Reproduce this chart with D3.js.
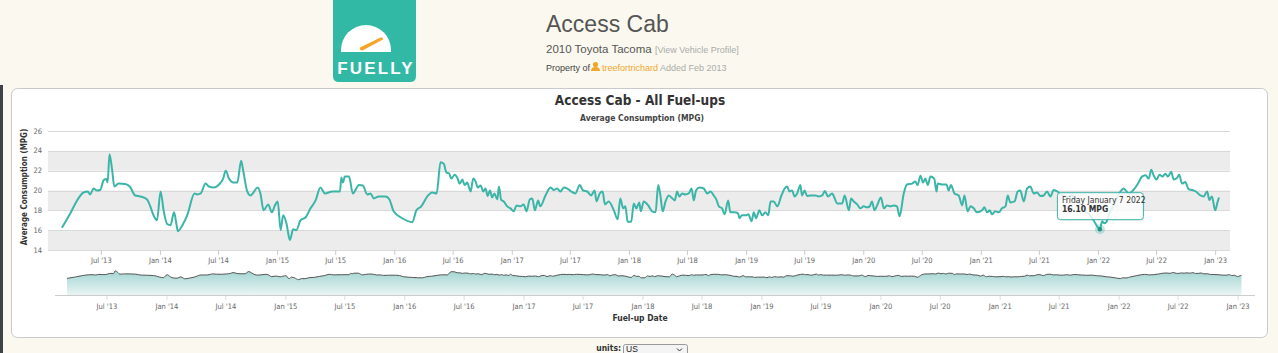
<!DOCTYPE html>
<html>
<head>
<meta charset="utf-8">
<script src="https://cdn.jsdelivr.net/npm/d3@7"></script>
<style>
  body { margin: 0; background: #fbf9ef; overflow: hidden; }
  text { font-family: "Liberation Sans", Arial, sans-serif; }
  .narrow { font-family: "Liberation Sans Narrow", "DejaVu Sans Condensed", sans-serif; }
</style>
</head>
<body>
<div id="container"></div>
<script>
// fuel-up dates and average MPG
const fuelUpDates = [
  "2013-03-02","2013-03-28","2013-04-18","2013-05-08","2013-05-21","2013-05-29","2013-06-08","2013-06-19","2013-06-29","2013-07-10","2013-07-18","2013-07-22","2013-07-28","2013-08-05","2013-08-12","2013-08-25","2013-09-15","2013-09-29","2013-10-16","2013-11-01","2013-11-22","2013-12-02","2013-12-12","2013-12-23",
  "2014-01-03","2014-01-13","2014-01-24","2014-02-03","2014-02-14","2014-02-22","2014-02-26","2014-03-12","2014-03-27","2014-04-19","2014-04-27","2014-05-08","2014-05-23","2014-06-03","2014-06-18","2014-07-04","2014-07-17","2014-07-25","2014-08-04","2014-08-18","2014-08-30","2014-09-11","2014-09-18","2014-09-30","2014-10-10","2014-11-02","2014-11-10","2014-11-20","2014-12-04","2014-12-16","2014-12-24",
  "2015-01-03","2015-01-12","2015-01-20","2015-01-30","2015-02-10","2015-02-20","2015-03-02","2015-03-15","2015-03-31","2015-04-15","2015-05-01","2015-05-16","2015-05-30","2015-06-22","2015-07-16","2015-07-20","2015-07-25","2015-07-31","2015-08-13","2015-08-25","2015-09-13","2015-09-25","2015-10-09","2015-10-19","2015-10-29","2015-11-14","2015-12-05","2015-12-17","2015-12-30",
  "2016-01-26","2016-02-26","2016-03-10","2016-03-25","2016-04-13","2016-04-28","2016-05-12","2016-05-24","2016-06-03","2016-06-12","2016-06-19","2016-06-27","2016-07-07","2016-07-15","2016-07-23","2016-07-31","2016-08-07","2016-08-15","2016-08-26","2016-09-03","2016-09-10","2016-09-17","2016-09-26","2016-10-04","2016-10-11","2016-10-18","2016-10-25","2016-11-01","2016-11-08","2016-11-17","2016-11-22","2016-11-29","2016-12-07","2016-12-18","2016-12-28",
  "2017-01-07","2017-01-16","2017-01-28","2017-02-07","2017-02-16","2017-02-26","2017-03-06","2017-03-14","2017-03-24","2017-03-31","2017-04-16","2017-05-02","2017-05-12","2017-05-22","2017-06-02","2017-06-12","2017-06-23","2017-07-05","2017-07-18","2017-08-01","2017-08-11","2017-08-24","2017-09-05","2017-09-16","2017-09-22","2017-10-02","2017-10-11","2017-10-18","2017-10-30","2017-11-15","2017-11-27","2017-12-05","2017-12-14","2017-12-21","2017-12-28",
  "2018-01-08","2018-01-16","2018-01-24","2018-02-02","2018-02-07","2018-02-16","2018-03-02","2018-03-14","2018-03-25","2018-04-02","2018-04-09","2018-04-16","2018-04-25","2018-05-05","2018-05-13","2018-05-24","2018-05-31","2018-06-07","2018-06-16","2018-06-26","2018-07-06","2018-07-15","2018-07-22","2018-07-29","2018-08-09","2018-08-22","2018-09-02","2018-09-12","2018-09-22","2018-09-30","2018-10-08","2018-10-18","2018-10-26","2018-11-06","2018-11-13","2018-11-26","2018-12-07","2018-12-11","2018-12-19","2018-12-31",
  "2019-01-08","2019-01-18","2019-01-25","2019-02-01","2019-02-11","2019-02-20","2019-03-02","2019-03-11","2019-03-18","2019-03-28","2019-04-08","2019-04-21","2019-05-01","2019-05-09","2019-05-16","2019-05-24","2019-06-01","2019-06-09","2019-06-19","2019-06-24","2019-07-02","2019-07-10","2019-07-20","2019-08-05","2019-08-15","2019-08-26","2019-09-03","2019-09-13","2019-09-26","2019-10-04","2019-10-11","2019-10-27","2019-11-04","2019-11-17","2019-11-24","2019-12-02","2019-12-13","2019-12-23",
  "2020-01-02","2020-01-13","2020-01-21","2020-01-28","2020-02-05","2020-02-13","2020-02-25","2020-03-05","2020-03-15","2020-03-25","2020-04-05","2020-04-15","2020-04-23","2020-05-06","2020-05-16","2020-06-01","2020-06-11","2020-06-18","2020-06-27","2020-07-05","2020-07-12","2020-07-20","2020-07-28","2020-08-09","2020-08-16","2020-08-20","2020-09-02","2020-09-16","2020-09-23","2020-09-30","2020-10-11","2020-10-24","2020-11-04","2020-11-11","2020-11-21","2020-11-30","2020-12-10","2020-12-20",
  "2021-01-05","2021-01-12","2021-01-21","2021-01-29","2021-02-05","2021-02-15","2021-02-26","2021-03-08","2021-03-19","2021-03-26","2021-04-03","2021-04-16","2021-04-26","2021-05-04","2021-05-15","2021-05-25","2021-06-04","2021-06-15","2021-06-25","2021-07-06","2021-07-16","2021-07-26","2021-08-06","2021-08-16","2021-08-27","2021-09-09","2021-09-25","2021-10-10","2021-10-26","2021-11-10","2021-11-23","2021-12-05","2021-12-18",
  "2022-01-07","2022-01-14","2022-01-20","2022-01-27","2022-02-03","2022-02-14","2022-02-24","2022-03-12","2022-03-22","2022-04-07","2022-04-17","2022-05-03","2022-05-18","2022-05-29","2022-06-08","2022-06-16","2022-06-23","2022-07-02","2022-07-12","2022-07-21","2022-07-30","2022-08-07","2022-08-17","2022-08-25","2022-09-04","2022-09-11","2022-09-20","2022-09-30","2022-10-10","2022-10-21","2022-11-02","2022-11-16","2022-11-26","2022-12-07","2022-12-14","2022-12-22",
  "2023-01-01","2023-01-09","2023-01-13"
];
const avgMpg = [
  16.25,17.7,19.0,19.8,19.9,19.6,20.2,20.0,20.05,21.05,21.15,20.8,23.65,22.1,20.4,20.7,20.65,20.4,19.5,19.4,19.1,18.4,17.5,17.0,
  19.9,17.9,16.6,16.5,17.8,16.5,15.9,16.5,17.5,19.7,19.6,19.7,20.7,20.4,20.3,20.6,21.2,22.0,21.2,20.8,20.8,23.0,21.9,19.9,19.5,20.3,19.7,18.0,18.6,17.8,18.4,
  18.9,16.0,17.5,16.7,15.0,16.1,16.0,17.0,17.3,18.2,19.0,20.3,19.7,19.9,19.9,21.3,20.8,21.4,21.4,19.7,20.55,20.5,19.6,19.7,19.2,19.4,19.4,19.1,17.9,
  17.2,16.8,18.0,18.4,19.4,19.8,19.7,22.85,22.7,21.8,21.75,21.2,21.6,21.3,20.7,21.1,20.55,20.8,19.9,21.2,20.95,20.3,20.5,19.9,20.2,19.45,20.0,19.3,19.7,19.1,20.4,19.05,18.9,18.4,18.2,
  17.9,18.5,18.4,18.6,17.9,19.1,19.2,18.0,19.0,18.4,19.5,20.3,20.05,20.2,19.9,20.3,20.2,19.9,19.7,20.55,20.0,19.9,19.5,20.0,18.9,19.7,19.9,18.6,18.9,18.0,17.1,19.2,18.2,18.4,16.85,
  16.85,18.7,18.2,18.8,17.9,18.9,18.5,17.9,17.8,20.55,19.5,17.9,18.9,19.5,19.3,19.0,19.9,19.4,19.7,19.6,19.7,20.2,19.0,20.0,20.3,20.2,19.7,19.9,19.5,19.1,18.4,18.2,17.6,19.0,17.8,17.8,17.7,17.2,17.5,17.5,
  17.6,16.9,17.8,17.2,18.0,17.5,17.8,17.5,18.9,18.9,18.4,19.5,20.2,20.4,19.9,20.0,19.4,19.7,20.55,19.5,20.0,19.45,19.5,19.5,19.4,19.5,19.95,19.4,19.7,19.2,18.7,18.7,19.5,18.0,19.2,18.9,18.6,18.2,
  18.4,18.3,18.4,18.9,18.0,18.5,19.3,18.2,18.5,18.4,18.5,18.4,17.4,19.7,20.6,20.7,20.9,20.55,21.5,20.8,21.2,20.55,21.4,21.2,19.9,20.7,20.6,20.6,20.0,20.55,19.7,19.5,18.5,19.5,17.9,18.4,18.2,17.8,
  18.0,18.3,17.8,18.0,17.6,17.9,17.8,18.2,18.4,19.5,18.8,18.9,19.9,20.0,18.9,20.2,20.4,19.7,19.8,19.45,19.5,19.9,19.4,20.05,19.9,19.6,19.3,19.5,18.9,18.6,17.9,17.6,17.0,
  16.1,16.9,16.7,16.8,17.5,18.2,18.9,19.9,20.2,19.7,19.9,20.55,21.4,21.55,21.2,22.1,21.55,21.1,21.6,21.4,21.7,21.4,21.9,21.1,21.25,21.6,20.7,20.85,20.15,20.05,19.9,19.5,19.4,19.9,19.05,19.4,
  18.0,18.9,19.3
];
const yTickValues = [14, 16, 18, 20, 22, 24, 26];
const plotBands = [[22, 24], [18, 20], [14, 16]];
const tooltipDate = "2022-01-07";

const width = 1278, height = 353;
const parse = d3.timeParse("%Y-%m-%d");
const data = fuelUpDates.map((d, i) => ({ date: parse(d), mpg: avgMpg[i] }));
const fmtTick = d3.timeFormat("%b '%y");

const svg = d3.create("svg").attr("width", width).attr("height", height);

// page header
const logo = svg.append("g");
logo.append("path")
  .attr("d", "M333,0 H416 V76 Q416,82 410,82 H339 Q333,82 333,76 Z")
  .attr("fill", "#31b9a6");
logo.append("path")
  .attr("d", "M341,52 V50 A25,25 0 0 1 391,50 V52 Z")
  .attr("fill", "#fff");
logo.append("path")
  .attr("d", "M360,47.5 L380.5,37.5 Q383.5,37 383,39.5 L362.5,50.5 Q359,50.5 360,47.5 Z")
  .attr("fill", "#f4a52a");
logo.append("text")
  .attr("x", 376).attr("y", 74)
  .attr("text-anchor", "middle")
  .attr("fill", "#fff")
  .attr("font-size", 17).attr("font-weight", "bold")
  .attr("letter-spacing", 2.2)
  .text("FUELLY");

svg.append("text").attr("x", 546).attr("y", 32)
  .attr("font-size", 23).attr("fill", "#555").text("Access Cab");
const sub = svg.append("text").attr("x", 546).attr("y", 53).attr("font-size", 11.5).attr("fill", "#555");
sub.append("tspan").text("2010 Toyota Tacoma ");
sub.append("tspan").attr("font-size", 9).attr("fill", "#aaa").text("[View Vehicle Profile]");

svg.append("text").attr("x", 546).attr("y", 71).attr("font-size", 9).attr("fill", "#444").text("Property of");
svg.append("circle").attr("cx", 595.5).attr("cy", 64.5).attr("r", 2.6).attr("fill", "#f0a52c");
svg.append("path").attr("d", "M591,71 Q591,67 595.5,67 Q600,67 600,71 Z").attr("fill", "#f0a52c");
const owner = svg.append("text").attr("x", 602).attr("y", 71).attr("font-size", 9);
owner.append("tspan").attr("fill", "#f0a52c").text("treefortrichard ");
owner.append("tspan").attr("fill", "#aaa").text("Added Feb 2013");

// left window edge
svg.append("rect").attr("x", 0).attr("y", 85).attr("width", 3).attr("height", 268).attr("fill", "#3d4247");

// chart card
svg.append("rect")
  .attr("x", 11.5).attr("y", 88.5).attr("width", 1256).attr("height", 249)
  .attr("rx", 6).attr("fill", "#fff").attr("stroke", "#c9c9c9");

// main chart scales
const x = d3.scaleTime()
  .domain(d3.extent(data, d => d.date))
  .range([62, 1219]);
const y = d3.scaleLinear().domain([14, 26]).range([250, 131]);
const gridLeft = 48, gridRight = 1230;

svg.append("g").selectAll("rect").data(plotBands).join("rect")
  .attr("x", gridLeft).attr("width", gridRight - gridLeft)
  .attr("y", d => y(d[1])).attr("height", d => y(d[0]) - y(d[1]))
  .attr("fill", "#ececec");

svg.append("g").selectAll("line").data(yTickValues).join("line")
  .attr("x1", gridLeft).attr("x2", gridRight)
  .attr("y1", d => Math.round(y(d)) + 0.5).attr("y2", d => Math.round(y(d)) + 0.5)
  .attr("stroke", "#d9d9d9");

svg.append("g").selectAll("text").data(yTickValues).join("text")
  .attr("class", "narrow")
  .attr("x", 42).attr("y", d => y(d) + 2.5)
  .attr("text-anchor", "end").attr("font-size", 7.5).attr("fill", "#666")
  .text(d => d);

svg.append("text")
  .attr("transform", "translate(27,187) rotate(-90)")
  .attr("class", "narrow")
  .attr("text-anchor", "middle").attr("font-size", 8).attr("font-weight", "bold").attr("fill", "#333")
  .text("Average Consumption (MPG)");

svg.append("text").attr("class", "narrow")
  .attr("x", 640).attr("y", 105).attr("text-anchor", "middle")
  .attr("font-size", 13.5).attr("font-weight", "bold").attr("fill", "#333")
  .text("Access Cab - All Fuel-ups");
svg.append("text").attr("class", "narrow")
  .attr("x", 642).attr("y", 121).attr("text-anchor", "middle")
  .attr("font-size", 8.5).attr("font-weight", "bold").attr("fill", "#444")
  .text("Average Consumption (MPG)");

// main x axis
const xAxis = svg.append("g")
  .attr("transform", "translate(0,250)")
  .call(d3.axisBottom(x).ticks(d3.timeMonth.every(6)).tickFormat(fmtTick).tickSize(5).tickPadding(3));
xAxis.select(".domain").remove();
xAxis.selectAll(".tick line").attr("stroke", "#ccc");
xAxis.selectAll(".tick text").attr("class", "narrow").attr("font-size", 7.5).attr("fill", "#666");

// series
const line = d3.line().x(d => x(d.date)).y(d => y(d.mpg)).curve(d3.curveMonotoneX);
svg.append("path").datum(data)
  .attr("d", line).attr("fill", "none")
  .attr("stroke", "#3bb5a8").attr("stroke-width", 2).attr("stroke-linejoin", "round");

// navigator
const xNav = d3.scaleTime().domain(x.domain()).range([67, 1241.5]);
const yNav = d3.scaleLinear().domain([0, 24.5]).range([295, 270]);
const defs = svg.append("defs");
const grad = defs.append("linearGradient").attr("id", "navFill").attr("x1", 0).attr("y1", 0).attr("x2", 0).attr("y2", 1);
grad.append("stop").attr("offset", 0).attr("stop-color", "#a3d5d2");
grad.append("stop").attr("offset", 1).attr("stop-color", "#e9f5f4");

svg.append("path").datum(data)
  .attr("d", d3.area().x(d => xNav(d.date)).y0(295).y1(d => yNav(d.mpg)).curve(d3.curveMonotoneX))
  .attr("fill", "url(#navFill)");
svg.append("path").datum(data)
  .attr("d", d3.line().x(d => xNav(d.date)).y(d => yNav(d.mpg)).curve(d3.curveMonotoneX))
  .attr("fill", "none").attr("stroke", "#555").attr("stroke-width", 1);

svg.append("line").attr("x1", 55).attr("x2", 1255).attr("y1", 295.5).attr("y2", 295.5).attr("stroke", "#ccc");
const navAxis = svg.append("g")
  .attr("transform", "translate(0,296)")
  .call(d3.axisBottom(xNav).ticks(d3.timeMonth.every(6)).tickFormat(fmtTick).tickSize(4).tickPadding(4));
navAxis.select(".domain").remove();
navAxis.selectAll(".tick line").attr("stroke", "#ddd");
navAxis.selectAll(".tick text").attr("class", "narrow").attr("font-size", 7.5).attr("fill", "#666");

svg.append("text").attr("class", "narrow")
  .attr("x", 640).attr("y", 321).attr("text-anchor", "middle")
  .attr("font-size", 8.5).attr("font-weight", "bold").attr("fill", "#333")
  .text("Fuel-up Date");

// tooltip on 7 Jan 2022
const tip = data.find(d => +d.date === +parse(tooltipDate));
const tx = x(tip.date), ty = y(tip.mpg);
svg.append("circle").attr("cx", tx).attr("cy", ty).attr("r", 5).attr("fill", "#3bb5a8").attr("opacity", 0.3);
svg.append("circle").attr("cx", tx).attr("cy", ty).attr("r", 2.2).attr("fill", "#2a8f85");
const tipG = svg.append("g").attr("transform", `translate(${tx - 43},${ty - 37})`);
tipG.append("rect").attr("x", 1.5).attr("y", 1.5).attr("width", 86).attr("height", 27).attr("rx", 3)
  .attr("fill", "#000").attr("opacity", 0.06);
tipG.append("rect").attr("x", 0.5).attr("y", 0.5).attr("width", 86).attr("height", 27).attr("rx", 3)
  .attr("fill", "#fff").attr("fill-opacity", 0.85).attr("stroke", "#3bb5a8");
tipG.append("text").attr("class", "narrow").attr("x", 5).attr("y", 10.5)
  .attr("font-size", 8.5).attr("fill", "#333").text("Friday January 7 2022");
tipG.append("text").attr("class", "narrow").attr("x", 5).attr("y", 20)
  .attr("font-size", 8.5).attr("font-weight", "bold").attr("fill", "#333")
  .text(`${d3.format(".2f")(tip.mpg)} MPG`);

// units selector
svg.append("text").attr("class", "narrow").attr("x", 621).attr("y", 351)
  .attr("text-anchor", "end").attr("font-size", 8.5).attr("font-weight", "bold").attr("fill", "#333")
  .text("units:");
svg.append("rect").attr("x", 623.5).attr("y", 344.5).attr("width", 64).attr("height", 12).attr("rx", 2)
  .attr("fill", "#f4f4f4").attr("stroke", "#999");
svg.append("text").attr("x", 626).attr("y", 352).attr("font-size", 8.5).attr("fill", "#222").text("US");
svg.append("path").attr("d", "M677,348.5 L679.5,351 L682,348.5").attr("fill", "none").attr("stroke", "#333");

container.append(svg.node());
</script>
</body>
</html>
